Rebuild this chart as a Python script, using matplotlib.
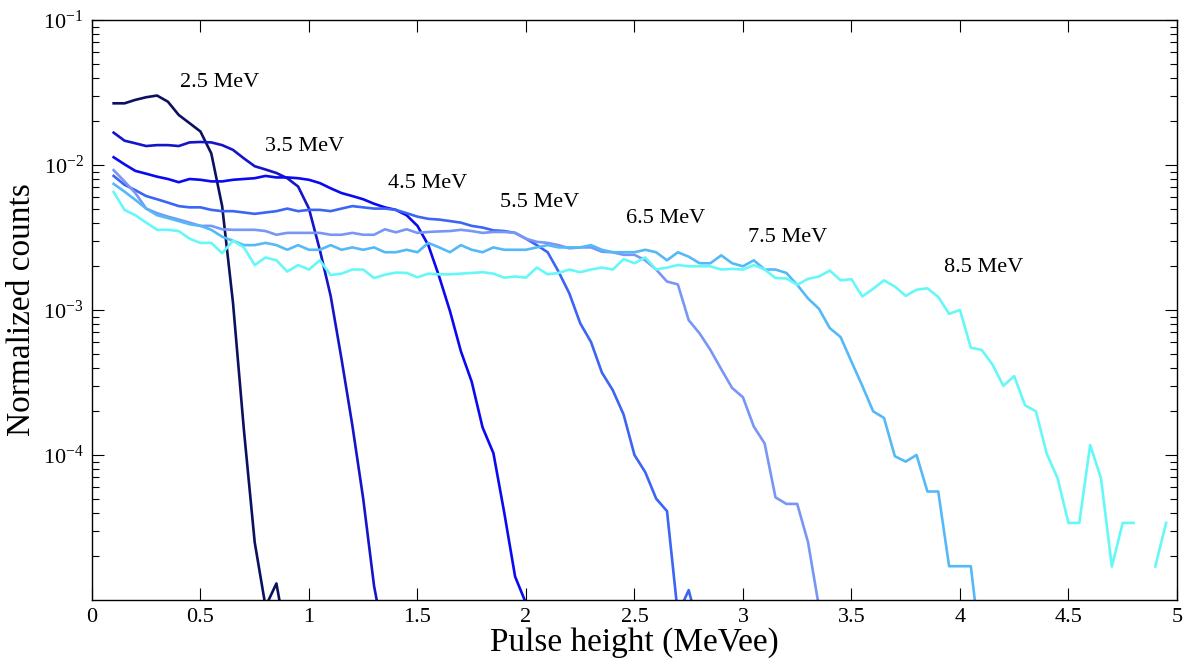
import matplotlib
matplotlib.use('Agg')
import matplotlib.pyplot as plt
import numpy as np

plt.rcParams['font.family'] = ['Liberation Serif', 'DejaVu Serif']
plt.rcParams['mathtext.fontset'] = 'custom'
plt.rcParams['mathtext.rm'] = 'Liberation Serif'
plt.rcParams['mathtext.it'] = 'Liberation Serif:italic'

# pulse height bins (MeVee), every curve starts at the first bin
ph = np.round(np.arange(0.10, 5.00, 0.05), 2)

labels = ['2.5 MeV', '3.5 MeV', '4.5 MeV', '5.5 MeV', '6.5 MeV', '7.5 MeV', '8.5 MeV']
colors = ['#0b1160', '#1414c8', '#0a0af0', '#3c64f5', '#7896f5', '#55b9f8', '#66f8f8']

c25 = [0.0266, 0.0266, 0.0281, 0.0293, 0.0301, 0.0273, 0.0221, 0.0194, 0.0170, 0.0120,
       0.0052, 0.00112, 1.5e-4, 2.5e-5, 9e-6, 1.3e-5, 5e-6]

c35 = [0.0167, 0.0147, 0.0141, 0.0135, 0.0137, 0.0137, 0.0135, 0.0143, 0.0144, 0.0143,
       0.0137, 0.0127, 0.0111, 0.0098, 0.0093, 0.0088, 0.0081, 0.0071, 0.0050, 0.0026,
       0.00125, 4.6e-4, 1.6e-4, 5.0e-5, 1.25e-5, 5e-6]

c45 = [0.0113, 0.0101, 0.0091, 0.0087, 0.0083, 0.0080, 0.0076, 0.0080, 0.0079, 0.0077,
       0.0077, 0.0079, 0.0080, 0.0081, 0.0084, 0.0082, 0.0082, 0.0081, 0.0079, 0.0075,
       0.0069, 0.0064, 0.0061, 0.0058, 0.0054, 0.0051, 0.0049, 0.0045, 0.0038, 0.0028,
       0.0017, 0.00098, 5.2e-4, 3.2e-4, 1.55e-4, 1.03e-4, 4.0e-5, 1.45e-5, 9.5e-6, 4e-6]

c55 = [0.0084, 0.0073, 0.0067, 0.0061, 0.0058, 0.0055, 0.0052, 0.0051, 0.0051, 0.0049,
       0.0048, 0.0048, 0.0047, 0.0046, 0.0047, 0.0048, 0.0050, 0.0048, 0.0049, 0.0049,
       0.0048, 0.0050, 0.0052, 0.0051, 0.0050, 0.0050, 0.0049, 0.00465, 0.0044, 0.00425,
       0.0042, 0.0041, 0.0040, 0.0038, 0.0037, 0.00354, 0.0035, 0.0034, 0.0031, 0.0028,
       0.0025, 0.00184, 0.0013, 8.1e-4, 6.0e-4, 3.7e-4, 2.8e-4, 1.9e-4, 1.0e-4, 7.6e-5,
       5.0e-5, 4.1e-5, 8e-6, 1.17e-5, 6e-6]

c65 = [0.0092, 0.0077, 0.0064, 0.0050, 0.00465, 0.0044, 0.0042, 0.0040, 0.0038, 0.0038,
       0.0036, 0.00357, 0.00357, 0.00357, 0.0035, 0.0033, 0.0034, 0.0034, 0.0034, 0.0034,
       0.0033, 0.0033, 0.0034, 0.0033, 0.0033, 0.0036, 0.00343, 0.0036, 0.0034, 0.00345,
       0.00348, 0.0035, 0.00357, 0.0035, 0.0034, 0.00345, 0.00345, 0.0034, 0.0031, 0.00295,
       0.0029, 0.0028, 0.00266, 0.0027, 0.0027, 0.00252, 0.0025, 0.0024, 0.0024, 0.0022,
       0.0019, 0.00157, 0.0015, 8.5e-4, 6.9e-4, 5.3e-4, 3.9e-4, 2.9e-4, 2.5e-4, 1.57e-4,
       1.2e-4, 5.1e-5, 4.6e-5, 4.6e-5, 2.5e-5, 9e-6, 4e-6]

c75 = [0.0074, 0.00655, 0.00574, 0.0050, 0.0045, 0.0043, 0.0041, 0.0039, 0.0038, 0.00357,
       0.0032, 0.0030, 0.0028, 0.0028, 0.0029, 0.0028, 0.0026, 0.0028, 0.0026, 0.0026,
       0.0028, 0.0026, 0.0027, 0.0026, 0.0027, 0.0025, 0.0025, 0.0026, 0.0025, 0.0029,
       0.0027, 0.0025, 0.0028, 0.0026, 0.0025, 0.0027, 0.0026, 0.0026, 0.0026, 0.0027,
       0.0028, 0.0027, 0.0027, 0.0027, 0.0028, 0.0026, 0.0025, 0.0025, 0.0025, 0.0026,
       0.0025, 0.0022, 0.0025, 0.00233, 0.0021, 0.0021, 0.00238, 0.0021, 0.0020, 0.0022,
       0.0019, 0.0019, 0.0018, 0.00149, 0.0012, 0.00102, 7.5e-4, 6.5e-4, 4.4e-4, 3.0e-4,
       2.0e-4, 1.8e-4, 9.8e-5, 9.0e-5, 1.0e-4, 5.6e-5, 5.6e-5, 1.71e-5, 1.71e-5, 1.71e-5,
       4e-6]

c85 = [0.0065, 0.0049, 0.0045, 0.0040, 0.00357, 0.00357, 0.0035, 0.0031, 0.0029, 0.0029,
       0.00246, 0.0030, 0.0027, 0.00204, 0.0023, 0.0022, 0.00184, 0.00204, 0.0019, 0.0022,
       0.00174, 0.00178, 0.0019, 0.0019, 0.00166, 0.00175, 0.00181, 0.0018, 0.00168, 0.00178,
       0.00176, 0.00176, 0.00178, 0.0018, 0.00182, 0.00178, 0.00167, 0.0017, 0.00167, 0.00196,
       0.00176, 0.0018, 0.0019, 0.00182, 0.0019, 0.00196, 0.0019, 0.00224, 0.0021, 0.0023,
       0.0019, 0.00196, 0.00204, 0.0020, 0.0020, 0.0020, 0.0019, 0.00192, 0.0019, 0.00204,
       0.0019, 0.00166, 0.00165, 0.00149, 0.00164, 0.0017, 0.00187, 0.0016, 0.00163, 0.00124,
       0.0014, 0.0016, 0.00145, 0.00125, 0.00138, 0.00141, 0.00123, 9.4e-4, 0.0010, 5.5e-4,
       5.3e-4, 4.2e-4, 3.0e-4, 3.5e-4, 2.2e-4, 2.0e-4, 1.02e-4, 6.9e-5, 3.4e-5, 3.4e-5,
       1.17e-4, 6.9e-5, 1.7e-5, 3.4e-5, 3.4e-5, np.nan, 1.7e-5, 3.4e-5]

curves = [c25, c35, c45, c55, c65, c75, c85]

# label anchor points (left edge of text)
lab_x = [0.405, 0.797, 1.364, 1.880, 2.461, 3.023, 3.926]
lab_y = [0.0373, 0.0135, 0.0074, 0.00547, 0.0043, 0.00314, 0.00195]

fig = plt.figure(figsize=(11.88, 6.64), dpi=100)
ax = fig.add_axes([0.0774, 0.0964, 0.9133, 0.8736])

for vals, col in zip(curves, colors):
    ax.plot(ph[:len(vals)], vals, color=col, lw=1.9)

for lab, lx, ly in zip(labels, lab_x, lab_y):
    ax.text(lx, ly, lab, fontsize=16, ha='left', va='center')

ax.set_yscale('log')
ax.set_xlim(0, 5)
ax.set_ylim(1e-5, 1e-1)
ax.set_xticks(np.arange(0, 5.01, 0.5))
ax.set_xticklabels(['0', '0.5', '1', '1.5', '2', '2.5', '3', '3.5', '4', '4.5', '5'])
ax.set_yticks([1e-4, 1e-3, 1e-2, 1e-1])
ax.tick_params(which='both', direction='in', top=True, right=True, labelsize=16, width=0.8)
ax.tick_params(which='major', length=8.5, pad=6)
ax.tick_params(which='minor', length=5)
for s in ax.spines.values():
    s.set_linewidth(1.0)

ax.set_xlabel('Pulse height (MeVee)', fontsize=24, labelpad=0)
ax.set_ylabel('Normalized counts', fontsize=24, labelpad=4)

fig.savefig('out.png', dpi=100)
